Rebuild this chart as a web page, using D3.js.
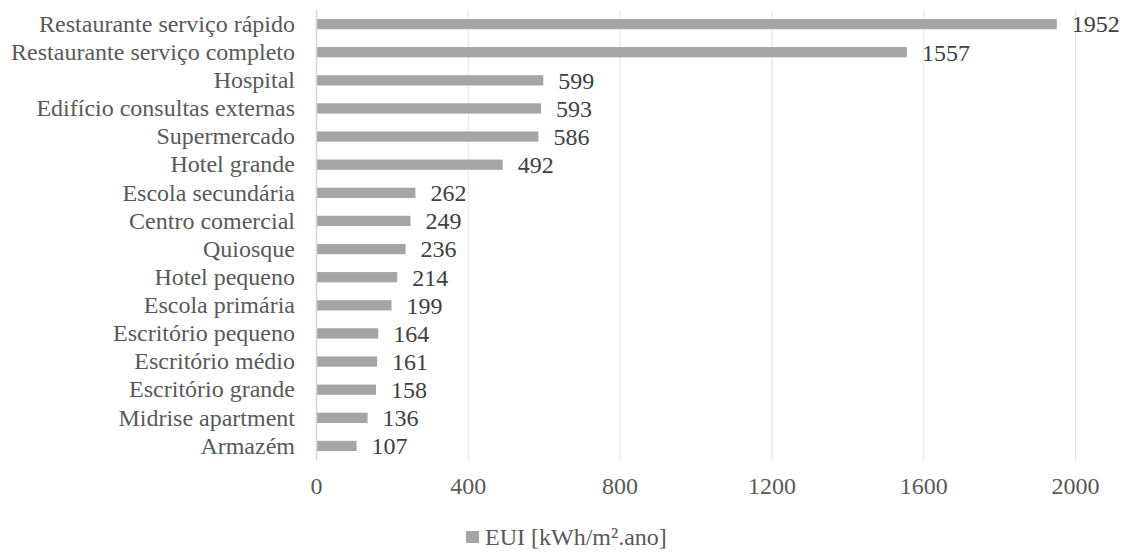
<!DOCTYPE html>
<html>
<head>
<meta charset="utf-8">
<script src="https://cdn.jsdelivr.net/npm/d3@7"></script>
<style>
  html, body { margin: 0; padding: 0; background: #ffffff; }
  svg { display: block; }
</style>
</head>
<body>
<svg id="chart" width="1127" height="553"></svg>
<script>
// Building types and their energy use intensity
const categories = [
  "Restaurante serviço rápido",
  "Restaurante serviço completo",
  "Hospital",
  "Edifício consultas externas",
  "Supermercado",
  "Hotel grande",
  "Escola secundária",
  "Centro comercial",
  "Quiosque",
  "Hotel pequeno",
  "Escola primária",
  "Escritório pequeno",
  "Escritório médio",
  "Escritório grande",
  "Midrise apartment",
  "Armazém"
];
const euiValues = [1952, 1557, 599, 593, 586, 492, 262, 249, 236, 214, 199, 164, 161, 158, 136, 107];
const xTicks = [0, 400, 800, 1200, 1600, 2000];
const seriesName = "EUI [kWh/m².ano]";

const rows = categories.map((c, i) => ({ name: c, value: euiValues[i] }));

const FONT = "'Liberation Serif', 'Times New Roman', serif";
const svg = d3.select("#chart");
const plotLeft = 316, plotRight = 1075, plotTop = 10, plotBottom = 460;

const x = d3.scaleLinear().domain([0, 2000]).range([plotLeft, plotRight]);
const y = d3.scaleBand()
  .domain(categories)
  .range([plotTop, plotBottom])
  .paddingInner(0.635)
  .paddingOuter(0.3175);

// vertical gridlines
svg.append("g")
  .selectAll("line")
  .data(xTicks.filter(t => t > 0))
  .join("line")
  .attr("x1", d => x(d) + 0.5).attr("x2", d => x(d) + 0.5)
  .attr("y1", plotTop).attr("y2", plotBottom)
  .attr("stroke", "#e4e4e4")
  .attr("stroke-width", 1);

// bars
svg.append("g")
  .selectAll("rect")
  .data(rows)
  .join("rect")
  .attr("x", x(0))
  .attr("y", d => y(d.name))
  .attr("width", d => x(d.value) - x(0))
  .attr("height", y.bandwidth())
  .attr("fill", "#a5a5a5");

// category axis line
svg.append("line")
  .attr("x1", x(0) + 0.5).attr("x2", x(0) + 0.5)
  .attr("y1", plotTop).attr("y2", plotBottom)
  .attr("stroke", "#d6d6d6")
  .attr("stroke-width", 1.5);

// category labels
const yAxis = d3.axisLeft(y).tickSize(0).tickPadding(21);
const yg = svg.append("g").attr("transform", `translate(${x(0)},0)`).call(yAxis);
yg.select(".domain").remove();
yg.selectAll("text")
  .style("font-family", FONT)
  .style("font-size", "24px")
  .attr("fill", "#595959");

// value axis tick labels
const xAxis = d3.axisBottom(x).tickValues(xTicks).tickSize(0).tickPadding(17).tickFormat(d3.format("d"));
const xg = svg.append("g").attr("transform", `translate(0,${plotBottom})`).call(xAxis);
xg.select(".domain").remove();
xg.selectAll("text")
  .style("font-family", FONT)
  .style("font-size", "24px")
  .attr("fill", "#595959");

// data labels
svg.append("g")
  .selectAll("text")
  .data(rows)
  .join("text")
  .attr("x", d => x(d.value) + 15)
  .attr("y", d => y(d.name) + y.bandwidth() / 2)
  .attr("dy", "0.35em")
  .style("font-family", FONT)
  .style("font-size", "24px")
  .attr("fill", "#404040")
  .text(d => d.value);

// legend
const legend = svg.append("g").attr("transform", "translate(466,531)");
legend.append("rect")
  .attr("x", 0).attr("y", 0)
  .attr("width", 13).attr("height", 12)
  .attr("fill", "#a5a5a5");
legend.append("text")
  .attr("x", 19).attr("y", 6)
  .attr("dy", "0.35em")
  .style("font-family", FONT)
  .style("font-size", "24px")
  .attr("fill", "#595959")
  .text(seriesName);
</script>
</body>
</html>
